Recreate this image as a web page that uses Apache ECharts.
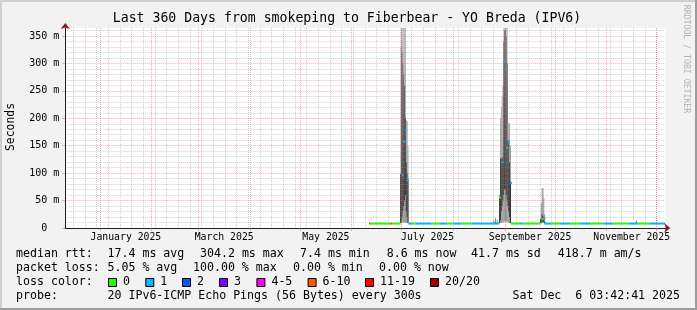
<!DOCTYPE html>
<html><head><meta charset="utf-8">
<script src="https://cdn.jsdelivr.net/npm/echarts@6/dist/echarts.min.js"></script>
<style>html,body{margin:0;padding:0;background:#f2f2f2}#c{width:697px;height:310px}</style>
</head><body><div id="c"></div><script>
// ---------- data ----------
const TITLE = 'Last 360 Days from smokeping to Fiberbear - YO Breda (IPV6)';
const X_START = '2024-12-11 03:42:41';
const X_END = '2025-12-06 03:42:41';
const Y_MAX = 364.6; // ms
const yMajorTicks = [0, 50, 100, 150, 200, 250, 300, 350];
const yMinorTicks = [10,20,30,40,60,70,80,90,110,120,130,140,160,170,180,190,210,220,230,240,260,270,280,290,310,320,330,340,360];
const monthTicks = ['2025-01-01','2025-02-01','2025-03-01','2025-04-01','2025-05-01','2025-06-01','2025-07-01','2025-08-01','2025-09-01','2025-10-01','2025-11-01','2025-12-01'];
const firstWeekTick = '2024-12-16';
const xLabelDates = ['2025-01-16 12:00','2025-03-16 12:00','2025-05-16 12:00','2025-07-16 12:00','2025-09-16 00:00','2025-11-16 00:00'];
const xLabelTexts = ['January 2025','March 2025','May 2025','July 2025','September 2025','November 2025'];

const lossLabels = ['0','1','2','3','4-5','6-10','11-19','20/20'];

// median runs: [start, end, loss class index, median ms]
const medianRuns = [
  ['2025-06-11 12:00','2025-06-12 00:00',6,8],
  ['2025-06-12 00:00','2025-06-24 00:00',0,8],
  ['2025-06-24 00:00','2025-06-25 12:00',5,8],
  ['2025-06-25 12:00','2025-06-30 00:00',0,8],
  ['2025-07-05 00:00','2025-07-07 00:00',1,8],
  ['2025-07-07 00:00','2025-07-09 12:00',0,8],
  ['2025-07-09 12:00','2025-07-19 00:00',1,8],
  ['2025-07-19 00:00','2025-07-24 00:00',0,8],
  ['2025-07-24 00:00','2025-07-28 00:00',1,8],
  ['2025-07-28 00:00','2025-08-01 00:00',0,8],
  ['2025-08-01 00:00','2025-08-06 00:00',1,8],
  ['2025-08-06 00:00','2025-08-12 00:00',0,8],
  ['2025-08-12 00:00','2025-08-28 12:00',1,8],
  ['2025-09-04 12:00','2025-09-10 00:00',0,8],
  ['2025-09-10 00:00','2025-09-12 00:00',1,8],
  ['2025-09-12 00:00','2025-09-22 00:00',0,8],
  ['2025-09-24 12:00','2025-09-29 00:00',1,8],
  ['2025-09-29 00:00','2025-10-04 00:00',0,8],
  ['2025-10-04 00:00','2025-10-10 00:00',1,8],
  ['2025-10-10 00:00','2025-10-16 00:00',0,8],
  ['2025-10-16 00:00','2025-10-22 00:00',1,8],
  ['2025-10-22 00:00','2025-10-30 00:00',0,8],
  ['2025-10-30 00:00','2025-11-05 00:00',1,8],
  ['2025-11-05 00:00','2025-11-14 00:00',0,8],
  ['2025-11-14 00:00','2025-11-20 00:00',1,8],
  ['2025-11-20 00:00','2025-11-27 00:00',0,8],
  ['2025-11-27 00:00','2025-12-06 03:42',1,8]
];
// isolated medians during spikes: [date, ms, loss class]
const spikeMedians = [
  ['2025-07-01 00:00',96,1],['2025-07-02 00:00',157,1],['2025-07-03 00:00',178,1],['2025-07-04 00:00',87,1],
  ['2025-08-28 12:00',55,0],['2025-08-29 21:00',120,1],['2025-08-31 00:00',304,1],['2025-09-01 00:00',291,1],
  ['2025-09-01 18:00',146,1],['2025-09-02 18:00',157,1],['2025-09-04 00:00',82,1],
  ['2025-09-23 00:00',16,0],['2025-09-24 00:00',17,1]
];
// smoke columns (12h): [date, min, coreLow, coreHigh, max] ms
const smoke = [
  ['2025-06-30 00:00',8,9,97,100],
  ['2025-06-30 12:00',8,12,330,400],
  ['2025-07-01 00:00',9,20,320,400],
  ['2025-07-01 12:00',10,30,300,400],
  ['2025-07-02 00:00',10,40,280,400],
  ['2025-07-02 12:00',10,50,260,400],
  ['2025-07-03 00:00',10,60,200,400],
  ['2025-07-03 12:00',9,30,120,197],
  ['2025-07-04 00:00',9,20,100,195],
  ['2025-07-04 12:00',8,9,90,150],
  ['2025-08-25 00:00',8,9,10,14],
  ['2025-08-26 00:00',8,9,11,18],
  ['2025-08-27 00:00',8,9,10,15],
  ['2025-08-28 12:00',8,9,55,60],
  ['2025-08-29 00:00',9,15,127,200],
  ['2025-08-29 12:00',9,30,127,220],
  ['2025-08-30 00:00',10,40,125,240],
  ['2025-08-30 12:00',10,50,130,260],
  ['2025-08-31 00:00',10,60,340,400],
  ['2025-08-31 12:00',12,70,360,400],
  ['2025-09-01 00:00',12,70,360,400],
  ['2025-09-01 12:00',12,60,350,400],
  ['2025-09-02 00:00',10,50,300,400],
  ['2025-09-02 12:00',10,40,160,191],
  ['2025-09-03 00:00',10,30,160,191],
  ['2025-09-03 12:00',9,20,120,191],
  ['2025-09-04 00:00',8,9,85,150],
  ['2025-09-22 00:00',8,9,14,18],
  ['2025-09-22 12:00',8,10,16,45],
  ['2025-09-23 00:00',9,12,25,73],
  ['2025-09-23 12:00',9,12,22,73],
  ['2025-09-24 00:00',9,11,18,55],
  ['2025-09-24 12:00',8,9,12,25],
  ['2025-11-18 12:00',8,9,10,14]
];
const legendRtt = ['median rtt:','17.4 ms avg','304.2 ms max','7.4 ms min','8.6 ms now','41.7 ms sd','418.7 m am/s'];
const legendLoss = ['packet loss:','5.05 % avg','100.00 % max','0.00 % min','0.00 % now'];
const probeText = ['probe:','20 IPv6-ICMP Echo Pings (56 Bytes) every 300s','Sat Dec  6 03:42:41 2025'];

// ---------- styles ----------
const lossColors = ['#26ff00','#00b8ff','#0059ff','#7e00ff','#ff00ff','#ff5500','#ff0000','#a10000'];
const MONO = '"DejaVu Sans Mono"';
const T = s => new Date((s.length === 10 ? s + ' 00:00' : s).replace(' ', 'T')).getTime();
const HALF_DAY = 12 * 3600 * 1000;
const weekTicks = [];
for (let t = T(firstWeekTick); t <= T(X_END); t += 7 * 86400000) weekTicks.push(t);
const labelTs = xLabelDates.map(T);

const chart = echarts.init(document.getElementById('c'), null, {renderer: 'canvas'});

function clipR(r, cs) {
  return echarts.graphic.clipRectByRect(r, {x: cs.x, y: cs.y, width: cs.width, height: cs.height});
}

const gridCfg = {left: 65.3, top: 28, width: 600, height: 200, show: true, backgroundColor: '#ffffff', borderWidth: 0};
const MAJOR = 'rgba(222,79,79,0.45)';
const MINOR = 'rgba(143,143,143,0.42)';

const xBase = {type: 'value', position: 'bottom', min: T(X_START), max: T(X_END), gridIndex: 0, scale: true};
const yBase = {type: 'value', position: 'left', min: 0, max: Y_MAX, gridIndex: 0};

const option = {
  backgroundColor: '#f2f2f2',
  animation: false,
  grid: gridCfg,
  xAxis: [
    Object.assign({}, xBase, { // arrow
      z: 3, axisLine: {show: true, lineStyle: {color: '#801f1f', width: 1}, symbol: ['none', 'arrow'], symbolSize: [7, 6], symbolOffset: [0, 5]},
      axisTick: {show: false}, axisLabel: {show: false}, splitLine: {show: false}
    }),
    Object.assign({}, xBase, { // minor weekly grid
      z: 3, axisLine: {show: false},
      axisTick: {show: false, customValues: weekTicks}, axisLabel: {show: false},
      splitLine: {show: true, lineStyle: {color: MINOR, type: [1, 1], width: 1}}
    }),
    Object.assign({}, xBase, { // main
      z: 4, axisLine: {show: true, lineStyle: {color: '#1f1f1f', width: 1}},
      axisTick: {show: true, inside: false, length: 3, customValues: monthTicks.map(T), lineStyle: {color: MAJOR}},
      axisLabel: {show: true, customValues: labelTs, margin: 4, color: '#000', fontFamily: MONO, fontSize: 9.8,
        hideOverlap: false,
        formatter: v => { const i = labelTs.indexOf(v); return i >= 0 ? xLabelTexts[i] : ''; }},
      splitLine: {show: true, lineStyle: {color: MAJOR, type: [1, 1], width: 1}}
    })
  ],
  yAxis: [
    Object.assign({}, yBase, {
      z: 3, axisLine: {show: true, lineStyle: {color: '#801f1f'}, symbol: ['none', 'arrow'], symbolSize: [7, 6], symbolOffset: [0, 5]},
      axisTick: {show: false}, axisLabel: {show: false}, splitLine: {show: false}
    }),
    Object.assign({}, yBase, {
      z: 3, axisLine: {show: false},
      axisTick: {show: false, customValues: yMinorTicks}, axisLabel: {show: false},
      splitLine: {show: true, lineStyle: {color: MINOR, type: [1, 1], width: 1}}
    }),
    Object.assign({}, yBase, {
      z: 4, axisLine: {show: true, lineStyle: {color: '#1f1f1f'}},
      axisTick: {show: true, length: 3, customValues: yMajorTicks, lineStyle: {color: MAJOR}},
      axisLabel: {show: true, customValues: yMajorTicks, margin: 6, color: '#000', fontFamily: MONO, fontSize: 10,
        formatter: v => v === 0 ? '0  ' : v + ' m'},
      splitLine: {show: true, lineStyle: {color: MAJOR, type: [1, 1], width: 1}}
    })
  ],
  series: [
    {
      type: 'custom', name: 'smoke', xAxisIndex: 2, yAxisIndex: 2, z: 1,
      data: smoke.map(r => [T(r[0]), r[1], r[2], r[3], r[4]]),
      encode: {x: 0, y: [1, 2, 3, 4]},
      renderItem: (params, api) => {
        const t = api.value(0);
        const w = Math.max(api.size([HALF_DAY, 0])[0], 0.9);
        const x = api.coord([t, 0])[0];
        const yLo = api.coord([t, api.value(1)])[1], yCl = api.coord([t, api.value(2)])[1];
        const yCh = api.coord([t, api.value(3)])[1], yHi = api.coord([t, api.value(4)])[1];
        const cs = params.coordSys;
        const outer = clipR({x: x, y: yHi, width: w, height: yLo - yHi}, cs);
        const core = clipR({x: x, y: yCh, width: w, height: yCl - yCh}, cs);
        const ch = [];
        if (outer) ch.push({type: 'rect', shape: outer, style: {fill: new echarts.graphic.LinearGradient(0, cs.y, 0, cs.y + cs.height,
          [{offset: 0, color: '#b4b4b4'}, {offset: 1, color: '#8c8c8c'}], true)}});
        if (core) ch.push({type: 'rect', shape: core, style: {fill: new echarts.graphic.LinearGradient(0, cs.y, 0, cs.y + cs.height,
          [{offset: 0, color: '#6e6e6e'}, {offset: 0.6, color: '#3a3a3a'}, {offset: 1, color: '#1e1e1e'}], true)}});
        return {type: 'group', children: ch};
      }
    },
    {
      type: 'custom', name: 'median', xAxisIndex: 2, yAxisIndex: 2, z: 2,
      data: medianRuns.map(r => [T(r[0]), T(r[1]), r[3], r[2]]),
      encode: {x: [0, 1], y: 2},
      renderItem: (params, api) => {
        const p1 = api.coord([api.value(0), api.value(2)]);
        const p2 = api.coord([api.value(1), api.value(2)]);
        return {type: 'rect', shape: {x: p1[0], y: p1[1] - 1, width: p2[0] - p1[0], height: 2},
          style: {fill: lossColors[api.value(3)]}};
      }
    },
    {
      type: 'custom', name: 'spikeMedian', xAxisIndex: 2, yAxisIndex: 2, z: 2,
      data: spikeMedians.map(r => [T(r[0]), r[1], r[2]]),
      encode: {x: 0, y: 1},
      renderItem: (params, api) => {
        const p = api.coord([api.value(0), api.value(1)]);
        return {type: 'rect', shape: {x: p[0], y: p[1] - 1, width: 2, height: 2},
          style: {fill: lossColors[api.value(2)]}};
      }
    }
  ],
  graphic: []
};

const G = option.graphic;
function text(x, y, s, size, extra) {
  const el = {type: 'text', x: x, y: y, z: 10, style: {text: s, font: size + 'px ' + MONO, fill: '#000', align: 'left', verticalAlign: 'middle'}};
  if (extra) { Object.assign(el.style, extra.style || {}); if (extra.rotation !== undefined) el.rotation = extra.rotation; }
  return el;
}
// border shading
G.push({type: 'rect', shape: {x: 0, y: 0, width: 697, height: 2}, style: {fill: '#cfcfcf'}, z: 1});
G.push({type: 'rect', shape: {x: 0, y: 0, width: 2, height: 310}, style: {fill: '#cfcfcf'}, z: 1});
G.push({type: 'rect', shape: {x: 0, y: 308, width: 697, height: 2}, style: {fill: '#9e9e9e'}, z: 1});
G.push({type: 'rect', shape: {x: 695, y: 0, width: 2, height: 310}, style: {fill: '#9e9e9e'}, z: 1});
// title
G.push(text(347, 19, TITLE, 13.2, {style: {align: 'center'}}));
// y axis title
G.push(text(11, 127, 'Seconds', 11.4, {rotation: Math.PI / 2, style: {align: 'center'}}));
// watermark
G.push(text(686.5, 59, 'RRDTOOL / TOBI OETIKER', 8.2, {rotation: -Math.PI / 2, style: {align: 'center', fill: '#b4b4b4'}}));
// legend rows
const LF = 11.6;
const rttX = [16, 107.5, 200, 300, 386.7, 471, 557.8];
legendRtt.forEach((s, i) => G.push(text(rttX[i], 254, s, LF)));
const lossX = [16, 107.5, 193, 293, 379];
legendLoss.forEach((s, i) => G.push(text(lossX[i], 268, s, LF)));
G.push(text(16, 282, 'loss color:', LF));
const boxX = [108, 145.3, 182, 219, 256.4, 307.6, 365, 430];
lossLabels.forEach((s, i) => {
  G.push({type: 'rect', z: 10, shape: {x: boxX[i] + 0.5, y: 278.5, width: 8, height: 8}, style: {fill: lossColors[i], stroke: '#000', lineWidth: 1}});
  G.push(text(boxX[i] + 15, 282, s, LF));
});
G.push(text(16, 296, probeText[0], LF));
G.push(text(107.5, 296, probeText[1], LF));
G.push(text(680, 296, probeText[2], LF, {style: {align: 'right'}}));

chart.setOption(option);
</script></body></html>
